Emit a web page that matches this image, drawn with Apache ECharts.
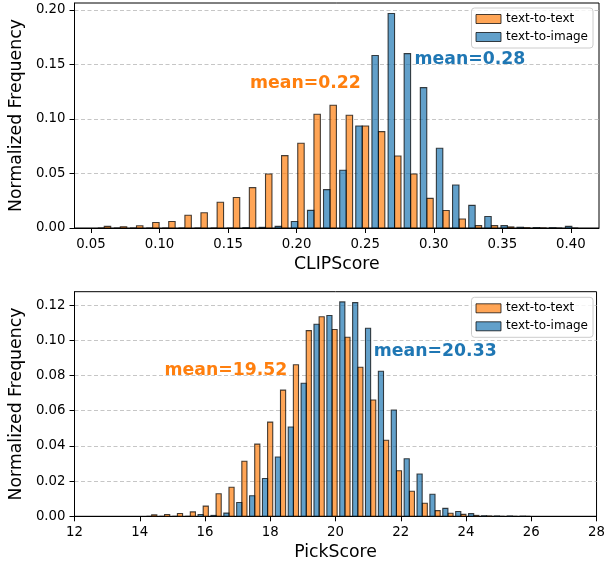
<!DOCTYPE html>
<html><head><meta charset="utf-8">
<script src="https://cdn.jsdelivr.net/npm/echarts@6/dist/echarts.min.js"></script>
<style>html,body{margin:0;padding:0;background:#fff}#c{width:608px;height:567px}</style>
</head><body><div id="c"></div>
<script>
// ---------- CLIPScore panel ----------
const clipBinCenters = [0.0597,0.0714,0.0832,0.0950,0.1067,0.1185,0.1302,0.1420,0.1538,0.1655,
  0.1773,0.1890,0.2008,0.2126,0.2243,0.2361,0.2478,0.2596,0.2714,0.2831,
  0.2949,0.3066,0.3184,0.3302,0.3419,0.3537,0.3654,0.3772,0.3890,0.4007];
const clipBinWidth = 0.01176;
const clipTextToText = [0.0015,0.0012,0.002,0.005,0.006,0.0117,0.014,0.0236,0.028,0.037,
  0.0495,0.0664,0.0777,0.1043,0.1126,0.1034,0.0936,0.0884,0.066,0.0495,
  0.0272,0.016,0.0083,0.0022,0.0022,0.001,0.0003,0.0001,0,0];
const clipTextToImage = [0,0,0,0,0,0,0,0,0,0.0003,
  0.0006,0.0015,0.006,0.0162,0.0352,0.053,0.0936,0.1582,0.1967,0.16,
  0.1288,0.0731,0.0394,0.0208,0.0105,0.0022,0.0007,0.0004,0.0003,0.0015];
const clipXTicks = [0.05,0.10,0.15,0.20,0.25,0.30,0.35,0.40];
const clipYTicks = [0,0.05,0.10,0.15,0.20];
const clipAnnotations = [[0.166,0.133,'mean=0.22','#ff7f0e'],[0.286,0.155,'mean=0.28','#1f77b4']];

// ---------- PickScore panel ----------
const pickBinCenters = [14.365,14.760,15.154,15.549,15.944,16.339,16.734,17.128,17.523,17.918,
  18.313,18.708,19.102,19.497,19.892,20.287,20.682,21.076,21.471,21.866,
  22.261,22.656,23.050,23.445,23.840,24.235,24.630,25.024,25.419,25.814];
const pickBinWidth = 0.3948;
const pickTextToText = [0.0008,0.001,0.0016,0.0025,0.0058,0.0128,0.0165,0.0313,0.041,0.0535,
  0.0717,0.0861,0.1055,0.1134,0.1061,0.1017,0.0847,0.0661,0.0432,0.0259,
  0.0142,0.0074,0.0032,0.0017,0.0011,0.0005,0.0002,0,0,0];
const pickTextToImage = [0,0,0,0,0.001,0.0005,0.0018,0.0078,0.0117,0.0215,
  0.0337,0.0507,0.0756,0.1091,0.1141,0.1218,0.1214,0.1068,0.0824,0.0604,
  0.0327,0.024,0.0125,0.0045,0.0027,0.0015,0.0003,0.0002,0.0002,0.0001];
const pickXTicks = [12,14,16,18,20,22,24,26,28];
const pickYTicks = [0,0.02,0.04,0.06,0.08,0.10,0.12];
const pickAnnotations = [[14.76,0.0831,'mean=19.52','#ff7f0e'],[21.175,0.0935,'mean=20.33','#1f77b4']];

const seriesNames = ['text-to-text','text-to-image'];
const FONT = 'DejaVu Sans';
const ORANGE = 'rgba(255,127,14,0.7)';
const BLUE = 'rgba(31,119,180,0.7)';
const EDGE = 'rgba(0,0,0,0.72)';

function barRenderer(binWidth, side, fill) {
  return function (params, api) {
    const c = api.value(0), h = api.value(1);
    const half = 0.4 * binWidth;
    const x0 = side < 0 ? c - half : c;
    const x1 = side < 0 ? c : c + half;
    const tl = api.coord([x0, h]);
    const br = api.coord([x1, 0]);
    return {type: 'rect', shape: {x: tl[0], y: tl[1], width: br[0] - tl[0], height: br[1] - tl[1]},
      style: {fill: fill, stroke: EDGE, lineWidth: 1.1}};
  };
}
function histSeries(name, centers, vals, binWidth, side, fill, idx) {
  return {type: 'custom', name: name, xAxisIndex: idx, yAxisIndex: idx,
    data: centers.map((c, i) => [c, vals[i]]),
    encode: {x: 0, y: 1},
    itemStyle: {color: fill, borderColor: EDGE, borderWidth: 1},
    renderItem: barRenderer(binWidth, side, fill), silent: true, z: 3};
}
function annotSeries(list, idx) {
  return list.map(a => ({type: 'scatter', xAxisIndex: idx, yAxisIndex: idx, symbolSize: 0,
    data: [[a[0], a[1]]], silent: true, z: 5,
    itemStyle: {opacity: 1},
    label: {show: true, position: 'right', distance: 0, formatter: a[2], color: a[3], opacity: 1,
      fontSize: 17.3, fontWeight: 'bold', fontFamily: FONT}}));
}
function xAxis(idx, min, max, ticks, dec, name) {
  return {type: 'value', gridIndex: idx, min: min, max: max, name: name, nameLocation: 'middle', nameGap: 28,
    nameTextStyle: {fontSize: 17.3, color: '#000', fontFamily: FONT},
    axisLine: {show: true, onZero: false, lineStyle: {color: '#000', width: 1}},
    axisTick: {show: true, inside: false, length: 5, customValues: ticks, lineStyle: {color: '#000', width: 1}},
    axisLabel: {customValues: ticks, formatter: v => v.toFixed(dec), color: '#000', fontSize: 13.3, fontFamily: FONT, margin: 10},
    splitLine: {show: false}};
}
function yAxis(idx, max, interval, ticks) {
  return {type: 'value', gridIndex: idx, min: 0, max: max, interval: interval,
    name: 'Normalized Frequency', nameLocation: 'middle', nameGap: 46,
    nameTextStyle: {fontSize: 17.3, color: '#000', fontFamily: FONT},
    axisLine: {show: true, lineStyle: {color: '#000', width: 1}},
    axisTick: {show: true, inside: false, length: 5, customValues: ticks, lineStyle: {color: '#000', width: 1}},
    axisLabel: {customValues: ticks, formatter: v => v.toFixed(2), color: '#000', fontSize: 13.3, fontFamily: FONT, margin: 9},
    splitLine: {show: true, lineStyle: {color: '#c6c6c6', width: 1, type: [4, 2.5]}}};
}
function legend(top) {
  return {data: seriesNames, orient: 'vertical', right: 15, top: top, padding: [5, 5, 5, 4],
    itemWidth: 25, itemHeight: 9, itemGap: 6, icon: 'rect', selectedMode: false,
    backgroundColor: 'rgba(255,255,255,0.8)', borderColor: '#cccccc', borderWidth: 1, borderRadius: 3,
    itemStyle: {borderColor: EDGE, borderWidth: 1},
    textStyle: {fontSize: 12, fontFamily: FONT, color: '#000', lineHeight: 12}};
}

const chart = echarts.init(document.getElementById('c'), null, {renderer: 'canvas'});
chart.setOption({
  animation: false,
  backgroundColor: '#fff',
  grid: [
    {left: 73, right: 9, top: 3, height: 225, show: true, borderColor: '#000', borderWidth: 1},
    {left: 73, right: 9, top: 291.7, height: 224.6, show: true, borderColor: '#000', borderWidth: 1}
  ],
  xAxis: [xAxis(0, 0.038, 0.4205, clipXTicks, 2, 'CLIPScore'), xAxis(1, 12, 28, pickXTicks, 0, 'PickScore')],
  yAxis: [yAxis(0, 0.2064, 0.05, clipYTicks), yAxis(1, 0.1276, 0.02, pickYTicks)],
  legend: [legend(8), legend(297.3)],
  series: [
    histSeries(seriesNames[0], clipBinCenters, clipTextToText, clipBinWidth, 1, ORANGE, 0),
    histSeries(seriesNames[1], clipBinCenters, clipTextToImage, clipBinWidth, -1, BLUE, 0),
    histSeries(seriesNames[0], pickBinCenters, pickTextToText, pickBinWidth, 1, ORANGE, 1),
    histSeries(seriesNames[1], pickBinCenters, pickTextToImage, pickBinWidth, -1, BLUE, 1)
  ].concat(annotSeries(clipAnnotations, 0), annotSeries(pickAnnotations, 1))
});
</script></body></html>
